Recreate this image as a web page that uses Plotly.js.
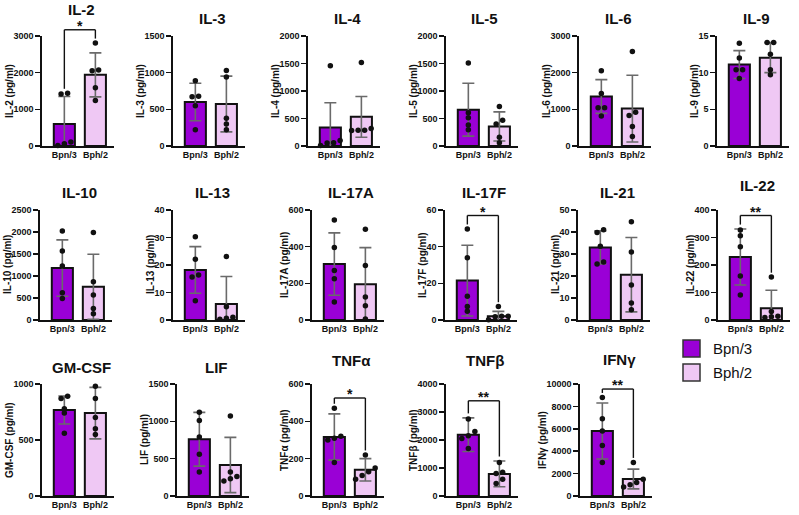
<!DOCTYPE html>
<html>
<head>
<meta charset="utf-8">
<script src="https://cdn.plot.ly/plotly-3.0.1.min.js"></script>
<style>
  html, body { margin: 0; padding: 0; background: #ffffff; }
  #chart { width: 799px; height: 515px; }
</style>
</head>
<body>
<div id="chart"></div>
<script>
// ---- cytokine panels ----
const titles = ['IL-2', 'IL-3', 'IL-4', 'IL-5', 'IL-6', 'IL-9',
                'IL-10', 'IL-13', 'IL-17A', 'IL-17F', 'IL-21', 'IL-22',
                'GM-CSF', 'LIF', 'TNFα', 'TNFβ', 'IFNγ'];
const groups = ['Bpn/3', 'Bph/2'];

// y-axis extent and tick step per panel
const yMax  = [3000, 1500, 2000, 2000, 3000, 15, 2500, 40, 600, 60, 50, 400, 1000, 1500, 600, 4000, 10000];
const yStep = [1000, 500, 500, 500, 1000, 5, 500, 10, 200, 20, 10, 100, 500, 500, 200, 1000, 2000];

// group means (bars) and SD (error bars)
const meanBpn = [600, 600, 335, 660, 1350, 11.1, 1180, 18.2, 305, 21.5, 33.0, 229, 768, 760, 316, 2190, 5800];
const sdBpn   = [750, 255, 450, 480, 460, 1.9, 640, 8.5, 170, 19.3, 7.5, 102, 125, 360, 124, 600, 2500];
const meanBph = [1940, 573, 530, 355, 1020, 12.05, 755, 5.8, 195, 2.0, 20.6, 43, 740, 415, 140, 790, 1520];
const sdBph   = [600, 380, 370, 265, 910, 2.05, 740, 10, 200, 2.7, 16.9, 65, 230, 370, 60, 460, 880];

// individual samples
const ptsBpn = [
  [1420, 1440, 110, 60, 15],
  [890, 670, 680, 550, 220],
  [1460, 100, 60, 55, 10],
  [1510, 605, 515, 380, 295],
  [2050, 1430, 1040, 1040, 820],
  [14.0, 12.0, 10.4, 10.4, 9.2],
  [2020, 1570, 1230, 620, 490],
  [30.3, 22.1, 16.4, 15.6, 7.0],
  [545, 395, 270, 225, 98],
  [49.7, 34.0, 12.9, 7.3, 4.8],
  [41.0, 39.8, 33.5, 26.4, 25.5],
  [327, 306, 266, 160, 91],
  [890, 870, 780, 740, 560],
  [1120, 1010, 790, 560, 320],
  [470, 320, 310, 300, 180],
  [2750, 2300, 2150, 2050, 1700],
  [8800, 6900, 5800, 4500, 3000]
];
const ptsBph = [
  [2810, 2050, 2070, 1590, 1240],
  [1030, 940, 380, 300, 220],
  [1520, 280, 320, 285, 285],
  [720, 470, 400, 160, 60],
  [2580, 920, 830, 530, 260],
  [14.1, 14.1, 12.5, 10.4, 9.7],
  [1990, 870, 570, 260, 140],
  [23.1, 4.8, 1.0, 0.6, 0.3],
  [495, 297, 125, 78, 5],
  [7.3, 2.0, 1.8, 2.1, 0.2],
  [44.7, 30.9, 15.9, 7.7, 4.7],
  [156, 31, 14, 12, 9],
  [980, 870, 700, 600, 550],
  [1070, 320, 260, 230, 200],
  [220, 150, 130, 110, 90],
  [1200, 850, 800, 600, 450],
  [3000, 1500, 1200, 1000, 800]
];

// significance marks and the level of their brackets
const sigMark  = ['*', '', '', '', '', '', '', '', '', '*', '', '**', '', '', '*', '**', '**'];
const sigLevel = [3170, 0, 0, 0, 0, 0, 0, 0, 0, 57, 0, 380, 0, 0, 525, 3400, 9550];

// ---- page geometry (pixels) ----
const W = 799, H = 515;
const rows = [
  { top: 36,  bottom: 146, titleY: 18 },
  { top: 210, bottom: 320, titleY: 192 },
  { top: 384, bottom: 496, titleY: 367 }
];
const frameLeft = [42, 173, 308, 446, 579, 717, 40, 173, 312, 445, 578, 718, 42, 177, 312, 446, 580];
const frameRow  = [0, 0, 0, 0, 0, 0, 1, 1, 1, 1, 1, 1, 2, 2, 2, 2, 2];
const titleLift = [9, 0, 0, 0, 0, 0, 0, 0, 0, 0, 0, 7, 0, 0, 7, 7, 8];
const plotW = 72;
const XR = [0.28, 2.6];

const SANS = '"Liberation Sans", Arial, sans-serif';
const INK = '#111111';
const C_BPN = '#9A00D6';
const C_BPH = '#EFC8F4';
const TICK_PX = 9;

// spread overlapping dots sideways, like a scatter dot plot
function spread(vals, ymax) {
  const order = vals.map((v, i) => i).sort((a, b) => vals[a] - vals[b]);
  const off = new Array(vals.length).fill(0);
  let cluster = [order[0]];
  const flush = () => {
    const k = cluster.length;
    cluster.forEach((j, n) => { off[j] = (n - (k - 1) / 2) * 0.21; });
  };
  for (let n = 1; n < order.length; n++) {
    const prev = cluster[cluster.length - 1];
    if (vals[order[n]] - vals[prev] < 0.04 * ymax) cluster.push(order[n]);
    else { flush(); cluster = [order[n]]; }
  }
  flush();
  return off;
}

const data = [];
const layout = {
  width: W, height: H,
  margin: { l: 0, r: 0, t: 0, b: 0 },
  paper_bgcolor: '#ffffff', plot_bgcolor: '#ffffff',
  showlegend: false,
  annotations: [],
  shapes: []
};

titles.forEach((name, i) => {
  const n = i + 1;
  const xa = n === 1 ? 'x' : 'x' + n;
  const ya = n === 1 ? 'y' : 'y' + n;
  const r = rows[frameRow[i]];
  const L = frameLeft[i];
  const xDom = [L / W, (L + plotW) / W];
  const yDom = [1 - r.bottom / H, 1 - r.top / H];

  // bars with SD whiskers
  data.push({
    type: 'bar', xaxis: xa, yaxis: ya,
    x: [1, 2], y: [meanBpn[i], meanBph[i]], width: 0.68,
    marker: { color: [C_BPN, C_BPH], line: { color: INK, width: 2 } },
    error_y: { type: 'data', array: [sdBpn[i], sdBph[i]], color: '#6a6a6a', thickness: 1.6, width: 6 },
    hoverinfo: 'skip'
  });

  // individual samples
  const o1 = spread(ptsBpn[i], yMax[i]);
  const o2 = spread(ptsBph[i], yMax[i]);
  data.push({
    type: 'scatter', mode: 'markers', xaxis: xa, yaxis: ya,
    x: ptsBpn[i].map((v, k) => 1 + o1[k]).concat(ptsBph[i].map((v, k) => 2 + o2[k])),
    y: ptsBpn[i].concat(ptsBph[i]),
    marker: { color: INK, size: 5.5 },
    cliponaxis: false, hoverinfo: 'skip'
  });

  layout['xaxis' + (n === 1 ? '' : n)] = {
    domain: xDom, anchor: ya, range: XR,
    tickmode: 'array', tickvals: [1, 2], ticktext: groups, tickangle: 0,
    showline: true, linecolor: INK, linewidth: 1.6,
    ticks: '', showgrid: false, zeroline: false, fixedrange: true,
    tickfont: { family: SANS, size: 9, weight: 'bold', color: INK }
  };
  layout['yaxis' + (n === 1 ? '' : n)] = {
    domain: yDom, anchor: xa, range: [0, yMax[i]],
    tick0: 0, dtick: yStep[i], tickformat: 'd',
    showline: true, linecolor: INK, linewidth: 1.6,
    ticks: 'outside', ticklen: 5, tickwidth: 1.6, tickcolor: INK,
    showgrid: false, zeroline: false, fixedrange: true,
    tickfont: { family: SANS, size: TICK_PX, weight: 'bold', color: INK }
  };

  // vertical axis caption, placed just left of the tick labels
  const digits = String(yMax[i]).length;
  layout.annotations.push({
    xref: 'paper', yref: 'paper',
    x: (L - 7 - digits * 5 - 6) / W, y: (yDom[0] + yDom[1]) / 2,
    xanchor: 'center', yanchor: 'middle', textangle: -90, showarrow: false,
    text: name + ' (pg/ml)', font: { family: SANS, size: 10, weight: 'bold', color: INK }
  });

  // panel heading
  layout.annotations.push({
    xref: 'paper', yref: 'paper',
    x: (L + plotW / 2 + 3) / W, y: 1 - (r.titleY - titleLift[i]) / H,
    xanchor: 'center', yanchor: 'middle', showarrow: false,
    text: name, font: { family: SANS, size: 15, weight: 'bold', color: INK }
  });

  // significance bracket
  if (sigMark[i]) {
    const px = v => (L + (v - XR[0]) / (XR[1] - XR[0]) * plotW) / W;
    const py = v => 1 - (r.bottom - v / yMax[i] * (r.bottom - r.top)) / H;
    const gap = 0.04 * yMax[i];
    const top1 = Math.max(...ptsBpn[i], meanBpn[i] + sdBpn[i]) + gap;
    const top2 = Math.max(...ptsBph[i], meanBph[i] + sdBph[i]) + gap;
    const lv = sigLevel[i];
    const line = { color: INK, width: 1.4 };
    layout.shapes.push({ type: 'line', xref: 'paper', yref: 'paper', x0: px(1), x1: px(1), y0: py(top1), y1: py(lv), line });
    layout.shapes.push({ type: 'line', xref: 'paper', yref: 'paper', x0: px(2), x1: px(2), y0: py(top2), y1: py(lv), line });
    layout.shapes.push({ type: 'line', xref: 'paper', yref: 'paper', x0: px(1), x1: px(2), y0: py(lv), y1: py(lv), line });
    layout.annotations.push({
      xref: 'paper', yref: 'paper', x: px(1.5), y: py(lv),
      xanchor: 'center', yanchor: 'bottom', yshift: -6, showarrow: false,
      text: sigMark[i], font: { family: SANS, size: 14, weight: 'bold', color: INK }
    });
  }
});

// group key
[[C_BPN, 340, groups[0]], [C_BPH, 364, groups[1]]].forEach(([col, y, label]) => {
  layout.shapes.push({
    type: 'rect', xref: 'paper', yref: 'paper',
    x0: 683 / W, x1: 700 / W, y0: 1 - (y + 17) / H, y1: 1 - y / H,
    fillcolor: col, line: { color: '#333333', width: 1.5 }
  });
  layout.annotations.push({
    xref: 'paper', yref: 'paper', x: 711 / W, y: 1 - (y + 8.5) / H,
    xanchor: 'left', yanchor: 'middle', showarrow: false,
    text: label, font: { family: SANS, size: 15, color: INK }
  });
});

Plotly.newPlot('chart', data, layout, { displayModeBar: false, staticPlot: true });
</script>
</body>
</html>
